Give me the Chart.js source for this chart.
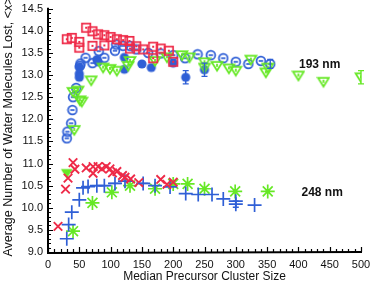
<!DOCTYPE html>
<html><head><meta charset="utf-8">
<script src="https://cdn.jsdelivr.net/npm/chart.js@4/dist/chart.umd.min.js"></script>
<style>html,body{margin:0;padding:0;background:#fff}#wrap{width:372px;height:287px}</style>
</head><body><div id="wrap"><canvas id="c" width="372" height="287"></canvas></div>
<script>
// ---- data ----
const xTicks = [0,50,100,150,200,250,300,350,400,450,500];
const yTicks = [9.0,9.5,10.0,10.5,11.0,11.5,12.0,12.5,13.0,13.5,14.0,14.5];

// 193 nm
const sqX = [30,38,50,50,61,71,71,80,90,90,100,110,120,130,131,141,152,168,168,180,193,200];
const sqY = [13.81,13.84,13.75,13.62,14.07,13.99,13.66,13.92,13.9,13.67,13.86,13.81,13.79,13.77,13.6,13.65,13.58,13.64,13.38,13.6,13.55,13.3];

const ocX = [30,31,37,39,40,45,51,52,60,71,81,90,107,109,120,131,141,160,180,200,219,239,260,280,300,320,340,355];
const ocY = [11.57,11.72,11.91,12.21,12.5,12.71,13.21,13.26,13.39,13.27,13.54,13.39,13.55,13.69,13.66,13.66,13.58,13.5,13.49,13.45,13.38,13.47,13.45,13.38,13.3,13.25,13.32,13.25];
const ocErr = [0,0,0,0,0,0,0,0,0,0,0,0,0,0,0,0,0,0,0,0,0,0,0,0,0,0,0,0.1];

const fcX = [50,50,50,78,80,122,122,150,165,200,220,250];
const fcY = [13.18,13.03,12.95,13.35,13.3,13.4,13.13,13.25,13.17,13.27,12.95,13.12];
const fcErr = [0,0,0,0,0,0,0,0,0,0,0.15,0.15];

const gtX = [42,40,48,51,54,69,88,99,110,128,131,171,190,214,226,250,250,270,289,300,324,348,351,400,440,500];
const gtY = [11.76,12.62,12.65,12.43,12.4,12.88,13.17,13.14,13.1,13.21,13.32,13.32,13.4,13.45,13.4,13.29,13.17,13.21,13.15,13.1,13.35,13.06,13.17,12.99,12.85,12.95];
const gtErr = [0,0,0,0,0,0,0,0,0,0,0,0,0,0,0,0,0,0,0,0,0,0,0,0,0,0.15];

// 248 nm
const rxX = [16,28,32,40,43,61,72,72,80,86,93,99,103,110,119,123,132,145,180,190,200];
const rxY = [9.58,10.42,10.67,11.02,10.87,10.9,10.93,10.78,10.93,10.88,10.93,10.88,10.79,10.82,10.73,10.69,10.65,10.57,10.64,10.53,10.58];

const bpX = [30,33,38,50,56,64,78,90,107,123,152,171,195,220,240,262,280,300,300,330];
const bpY = [9.3,9.62,9.9,10.18,10.45,10.48,10.5,10.5,10.55,10.6,10.55,10.5,10.47,10.32,10.3,10.3,10.2,10.08,10.15,10.06];
const bpXErr = [0,0,0,0,0,0,8,8,10,0,8,0,0,0,0,0,0,0,0,0];
const bpYErr = [0,0,0,0,0,0,0,0,0,0,0,0,0,0,0,0,0,0.07,0,0];

const gsX = [40,71,102,131,171,200,223,250,299,351];
const gsY = [9.47,10.11,10.35,10.5,10.43,10.54,10.54,10.43,10.37,10.37];

const ftX = [30];
const ftY = [10.78];

const labelText = ['193 nm','248 nm'];
const labelX = [434,438];
const labelY = [13.24,10.34];

// ---- styling ----
const RED = '#ee2a48', BLUE = '#2f5fd6', GREEN = '#66e825';

function marker(size, fn){
  const c = document.createElement('canvas');
  c.width = size; c.height = size;
  const g = c.getContext('2d');
  fn(g, size/2);
  return c;
}
const mSquare = marker(12, (g,h)=>{
  g.strokeStyle = RED; g.lineWidth = 1.7;
  g.strokeRect(h-4.2,h-4.2,8.4,8.4);
  g.fillStyle = RED; g.fillRect(h-1,h-1,2,2);
});
const mOCircle = marker(12, (g,h)=>{
  g.strokeStyle = BLUE; g.lineWidth = 1.7;
  g.beginPath(); g.arc(h,h,4.4,0,Math.PI*2); g.stroke();
  g.beginPath(); g.moveTo(h-2.2,h); g.lineTo(h+2.2,h); g.stroke();
});
const mFCircle = marker(12, (g,h)=>{
  g.fillStyle = BLUE;
  g.beginPath(); g.arc(h,h,4.6,0,Math.PI*2); g.fill();
});
const mTri = marker(14, (g,h)=>{
  g.strokeStyle = GREEN; g.lineWidth = 1.8;
  g.beginPath(); g.moveTo(h-5.4,h-3.8); g.lineTo(h+5.4,h-3.8); g.lineTo(h,h+4.8); g.closePath(); g.stroke();
  g.beginPath(); g.moveTo(h,h-2); g.lineTo(h,h+1); g.stroke();
});
const mFTri = marker(14, (g,h)=>{
  g.fillStyle = GREEN;
  g.beginPath(); g.moveTo(h-6,h-4.3); g.lineTo(h+6,h-4.3); g.lineTo(h,h+5.3); g.closePath(); g.fill();
});

function pts(xs, ys){ return xs.map((x,i)=>({x:x, y:ys[i]})); }

const datasets = [
  {label:'sq', data:pts(sqX,sqY), pointStyle:mSquare},
  {label:'tri', data:pts(gtX,gtY), pointStyle:mTri, yErr:gtErr, errColor:GREEN},
  {label:'fc', data:pts(fcX,fcY), pointStyle:mFCircle, yErr:fcErr, errColor:BLUE},
  {label:'oc', data:pts(ocX,ocY), pointStyle:mOCircle, yErr:ocErr, errColor:BLUE},
  {label:'rx', data:pts(rxX,rxY), pointStyle:'crossRot', pointRadius:6, borderColor:RED, pointBorderWidth:1.9},
  {label:'bp', data:pts(bpX,bpY), pointStyle:'cross', pointRadius:7, borderColor:BLUE, pointBorderWidth:1.7, xErr:bpXErr, yErr:bpYErr, errColor:BLUE},
  {label:'gs', data:pts(gsX,gsY), pointStyle:'star', pointRadius:7, borderColor:GREEN, pointBorderWidth:1.7},
  {label:'ft', data:pts(ftX,ftY), pointStyle:mFTri},
].map(d=>Object.assign({showLine:false, pointRadius:5, pointHoverRadius:5, backgroundColor:'transparent'}, d));

const FONT = '"Liberation Sans", Arial, sans-serif';

const overlay = {
  id:'overlay',
  afterDatasetsDraw(chart){
    const ctx = chart.ctx, xs = chart.scales.x, ys = chart.scales.y;
    chart.data.datasets.forEach(ds=>{
      ctx.save(); ctx.strokeStyle = ds.errColor || '#000'; ctx.lineWidth = 1.4;
      ds.data.forEach((p,i)=>{
        const px = xs.getPixelForValue(p.x), py = ys.getPixelForValue(p.y);
        if (ds.yErr && ds.yErr[i]){
          const a = ys.getPixelForValue(p.y+ds.yErr[i]), b = ys.getPixelForValue(p.y-ds.yErr[i]);
          ctx.beginPath(); ctx.moveTo(px,a); ctx.lineTo(px,b);
          ctx.moveTo(px-3,a); ctx.lineTo(px+3,a); ctx.moveTo(px-3,b); ctx.lineTo(px+3,b); ctx.stroke();
        }
        if (ds.xErr && ds.xErr[i]){
          const a = xs.getPixelForValue(p.x-ds.xErr[i]), b = xs.getPixelForValue(p.x+ds.xErr[i]);
          ctx.beginPath(); ctx.moveTo(a,py); ctx.lineTo(b,py); ctx.stroke();
        }
      });
      ctx.restore();
    });
  },
  afterDraw(chart){
    const ctx = chart.ctx, xs = chart.scales.x, ys = chart.scales.y, ca = chart.chartArea;
    ctx.save();
    ctx.strokeStyle = '#000';
    ctx.lineWidth = 1.2;
    ctx.beginPath();
    for (let v=0; v<=500; v+=10){
      const px = Math.round(xs.getPixelForValue(v))+0.5;
      const len = (v%50===0)?5:3;
      ctx.moveTo(px, ca.bottom); ctx.lineTo(px, ca.bottom-len);
    }
    for (let k=90; k<=145; k+=1){
      const v = k/10;
      const py = Math.round(ys.getPixelForValue(v))+0.5;
      const len = (k%5===0)?5:3;
      ctx.moveTo(ca.left, py); ctx.lineTo(ca.left+len, py);
    }
    ctx.stroke();
    ctx.lineWidth = 2;
    ctx.beginPath();
    ctx.moveTo(ca.left, ca.top-1); ctx.lineTo(ca.left, ca.bottom+1);
    ctx.lineTo(xs.getPixelForValue(500)+1, ca.bottom);
    ctx.stroke();
    ctx.fillStyle = '#111';
    ctx.font = '12px ' + FONT;
    ctx.textAlign = 'center'; ctx.textBaseline = 'middle';
    ctx.fillText('Median Precursor Cluster Size', (ca.left+ca.right)/2, 277);
    ctx.save();
    ctx.translate(9, 127); ctx.rotate(-Math.PI/2);
    ctx.font = '12.5px ' + FONT;
    ctx.fillText('Average Number of Water Molecules Lost, <x>', 0, 0);
    ctx.restore();
    ctx.font = 'bold 12px ' + FONT;
    labelText.forEach((t,i)=>{
      ctx.fillText(t, xs.getPixelForValue(labelX[i]), ys.getPixelForValue(labelY[i]));
    });
    ctx.restore();
  }
};

new Chart(document.getElementById('c'), {
  type:'scatter',
  data:{datasets},
  options:{
    responsive:false, animation:false, maintainAspectRatio:false,
    layout:{padding:{top:5,right:11,left:0,bottom:0}},
    plugins:{legend:{display:false}, tooltip:{enabled:false}},
    scales:{
      x:{type:'linear', min:0, max:500,
        grid:{display:false, drawTicks:false}, border:{display:false},
        afterBuildTicks(s){ s.ticks = xTicks.map(v=>({value:v})); },
        afterFit(s){ s.height = 35; s.paddingLeft = 0; s.paddingRight = 0; },
        ticks:{padding:6, color:'#111', font:{family:FONT, size:11}, maxRotation:0, autoSkip:false, callback:v=>String(v)}
      },
      y:{type:'linear', min:9, max:14.5,
        grid:{display:false, drawTicks:false}, border:{display:false},
        afterBuildTicks(s){ s.ticks = yTicks.map(v=>({value:v})); },
        afterFit(s){ s.width = 48; s.paddingTop = 0; s.paddingBottom = 0; },
        ticks:{padding:5, color:'#111', font:{family:FONT, size:11}, autoSkip:false, callback:v=>Number(v).toFixed(1)}
      }
    }
  },
  plugins:[overlay]
});
</script></body></html>
